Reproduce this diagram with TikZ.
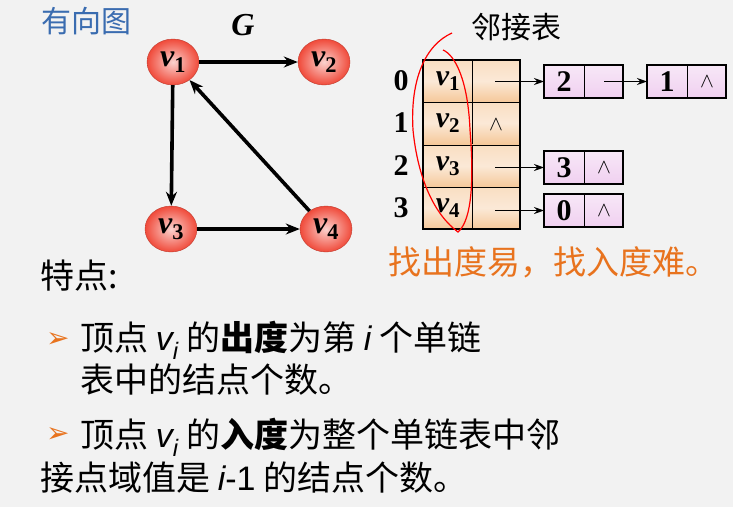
\documentclass[tikz,border=0pt]{standalone}
\usepackage{fontspec}
\setmainfont{Noto Sans CJK SC}
\newfontfamily\tms{Liberation Serif}
\newfontfamily\dju{DejaVu Sans}
\newfontfamily\lsans{Liberation Sans}
\usetikzlibrary{shapes.geometric,arrows.meta}
\definecolor{bg}{HTML}{F2F2F2}
\definecolor{vred}{HTML}{F04A3A}
\definecolor{hd}{HTML}{F5C89A}
\definecolor{ls}{HTML}{F0D0F0}
\definecolor{org}{HTML}{E8731E}
\definecolor{ttl}{HTML}{3A6CB0}
\newcommand\vi{{\lsans\itshape v\textsubscript{i}}}
\newcommand\ii{{\lsans\itshape i}}
\newcommand\vv[1]{{\itshape v}\textsubscript{\upshape #1}}
\begin{document}
\begin{tikzpicture}[x=1pt,y=-1pt,
 vtx/.style={ellipse,minimum width=52,minimum height=46,inner sep=0,draw=vred!80!black,
   inner color=vred!25,outer color=vred,font=\tms\bfseries\fontsize{32}{32}\selectfont},
 arr/.style={-{Stealth[length=14,width=11]},line width=3.6},
 ptr/.style={-{Stealth[length=10,width=7]},line width=1},
 txt/.style={font=\fontsize{34}{38}\selectfont,anchor=west,inner sep=0},
 nil/.style={font=\fontsize{20}{20}\selectfont},
 bul/.style={font=\dju\fontsize{28}{28}\selectfont,text=org,anchor=west,inner sep=0}]
\useasboundingbox[fill=bg] (0,0) rectangle (733,507);
\node[font=\fontsize{30}{30}\selectfont,text=ttl] (ttl) at (86,21) {有向图};
\node[font=\tms\bfseries\itshape\fontsize{32}{32}\selectfont] (G) at (243,25) {G};
\node[vtx] (v1) at (173,62) {\vv1};
\node[vtx] (v2) at (324,62) {\vv2};
\node[vtx] (v3) at (171,229) {\vv3};
\node[vtx] (v4) at (326,229) {\vv4};
\draw[arr] (v1) -- (v2);
\draw[arr] (v1) -- (v3);
\draw[arr] (v3) -- (v4);
\draw[arr] (v4) -- (v1);
\node[font=\fontsize{30}{30}\selectfont] (adj) at (516,27) {邻接表};
% head table
\foreach \i/\y in {0/60,1/102,2/145,3/187}{
  \path[top color=hd!60!white,bottom color=hd,middle color=hd!40!white] (423,\y) rectangle (520,\y+42);
  \draw[line width=0.6] (472,\y) -- (472,\y+42);
  \draw[line width=0.6] (423,\y) -- (520,\y);
  \node[font=\tms\bfseries\fontsize{30}{30}\selectfont] (idx\i) at (401,\y+21) {\i};
  \node[font=\tms\bfseries\fontsize{30}{30}\selectfont] (h\i) at (448,\y+21) {\vv{\the\numexpr\i+1\relax}};
  \coordinate (p\i) at (495,\y+21);
}
\draw[line width=2] (423,60) rectangle (520,229);
\node[nil] (nil1) at (496,125) {$\wedge$};
% list nodes
\newcommand\lnode[5]{%
  \path[top color=ls!50!white,bottom color=ls] (#2,#3) rectangle (#2+79,#3+33);
  \draw[line width=1.8] (#2,#3) rectangle (#2+79,#3+33);
  \draw[line width=0.6] (#2+40,#3) -- (#2+40,#3+33);
  \node[font=\tms\bfseries\fontsize{30}{30}\selectfont] (#1d) at (#2+20,#3+17) {#4};
  \coordinate (#1in) at (#2,#3+16.5);
  \coordinate (#1p) at (#2+60,#3+16.5);
  #5}
\lnode{a}{544}{65}{2}{}
\lnode{b}{647}{65}{1}{\node[nil] (bn) at (bp) {$\wedge$};}
\lnode{c}{544}{151}{3}{\node[nil] (cn) at (cp) {$\wedge$};}
\lnode{e}{544}{194}{0}{\node[nil] (en) at (ep) {$\wedge$};}
\draw[ptr] (p0 |- ain) -- (ain);
\draw[ptr] (ap) -- (bin);
\draw[ptr] (p2 |- cin) -- (cin);
\draw[ptr] (p3 |- ein) -- (ein);
% red annotation
\draw[red,line width=1.2] (452,33) .. controls (425,45) and (410,80) .. (413,130)
  .. controls (418,180) and (435,215) .. (458,232)
  .. controls (472,220) and (474,180) .. (470,130)
  .. controls (468,80) and (455,55) .. (443,50);
\node[font=\fontsize{33}{36}\selectfont,text=org,anchor=west,inner sep=0] (note) at (388,262) {找出度易，找入度难。};
\node[txt] (tz) at (40,276) {特点:};
\node[bul] (b1) at (46,340) {➢};
\node[txt] (l1) at (80,340) {顶点 \vi\ 的\textbf{出度}为第 \ii\ 个单链};
\node[txt] (l2) at (80,380) {表中的结点个数。};
\node[bul] (b2) at (46,435) {➢};
\node[txt] (l3) at (80,437) {顶点 \vi\ 的\textbf{入度}为整个单链表中邻};
\node[txt] (l4) at (40,478) {接点域值是 \ii{\lsans -1} 的结点个数。};
\end{tikzpicture}
\end{document}
